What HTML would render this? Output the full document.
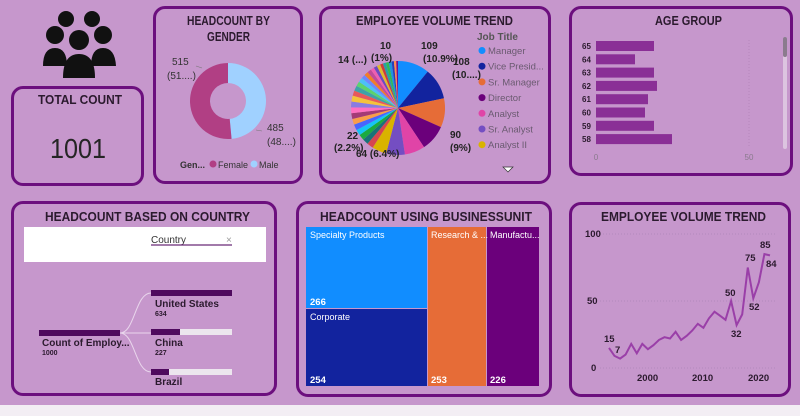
<!DOCTYPE html>
<html><head><meta charset="utf-8"><style>
body{margin:0;width:800px;height:416px;overflow:hidden;background:#c697cc;font-family:"Liberation Sans",sans-serif}
.p{position:absolute;border:3px solid #6c0f7e;border-radius:12px;box-sizing:border-box}
svg{position:absolute;left:0;top:0}
</style></head><body>
<div style="position:absolute;left:0;top:405px;width:800px;height:11px;background:#f3eef4"></div>
<div class="p" style="left:11px;top:86px;width:133px;height:100px"></div>
<div class="p" style="left:153px;top:6px;width:150px;height:178px"></div>
<div class="p" style="left:319px;top:6px;width:232px;height:178px"></div>
<div class="p" style="left:569px;top:6px;width:224px;height:170px"></div>
<div class="p" style="left:11px;top:201px;width:266px;height:195px"></div>
<div class="p" style="left:296px;top:201px;width:256px;height:196px"></div>
<div class="p" style="left:569px;top:202px;width:222px;height:195px"></div>
<svg id="s" width="800" height="416" font-family="Liberation Sans, sans-serif">
<g fill="#111">
<circle cx="66" cy="19" r="8"/><circle cx="92" cy="19" r="8"/>
<circle cx="55" cy="35" r="9"/><circle cx="103" cy="35" r="9"/>
<circle cx="79" cy="40" r="10"/>
<path d="M43 66 q0-18 12-18 q12 0 12 18z"/><path d="M91 66 q0-18 12-18 q12 0 13 18z"/>
<path d="M63 78 q0-24 16-24 q16 0 16 24z"/>
</g>
<g font-weight="bold" fill="#2b1a2e" font-size="13" lengthAdjust="spacingAndGlyphs">
<text x="38" y="104" textLength="84" lengthAdjust="spacingAndGlyphs">TOTAL COUNT</text>
<text x="187" y="25" textLength="83" lengthAdjust="spacingAndGlyphs">HEADCOUNT BY</text><text x="207" y="41" textLength="43" lengthAdjust="spacingAndGlyphs">GENDER</text>
<text x="356" y="25" textLength="157" lengthAdjust="spacingAndGlyphs">EMPLOYEE VOLUME TREND</text>
<text x="655" y="25" textLength="67" lengthAdjust="spacingAndGlyphs">AGE GROUP</text>
<text x="45" y="221" textLength="205" lengthAdjust="spacingAndGlyphs">HEADCOUNT BASED ON COUNTRY</text>
<text x="320" y="221" textLength="212" lengthAdjust="spacingAndGlyphs">HEADCOUNT USING BUSINESSUNIT</text>
<text x="601" y="221" textLength="165" lengthAdjust="spacingAndGlyphs">EMPLOYEE VOLUME TREND</text>
</g>
<text x="50" y="158" textLength="56" lengthAdjust="spacingAndGlyphs" font-size="28" fill="#252525">1001</text>
<g id="donut"></g>
<g font-size="10" fill="#333"><text x="172" y="65">515</text><text x="167" y="79">(51....)</text>
<text x="267" y="131">485</text><text x="267" y="145">(48....)</text>
<text x="180" y="168" font-weight="bold" font-size="9">Gen...</text>
<circle cx="213" cy="164" r="3.5" fill="#b13f84"/><text x="218" y="168" font-size="9">Female</text>
<circle cx="254" cy="164" r="3.5" fill="#a0d1ff"/><text x="259" y="168" font-size="9">Male</text></g>
<path d="M196 66 l6 2 M256 130 l6 1" stroke="#777" fill="none" stroke-width=".6"/>
<g id="pie"></g>
<g font-size="10" font-weight="bold" fill="#222">
<text x="421" y="49">109</text><text x="423" y="62">(10.9%)</text>
<text x="453" y="65">108</text><text x="452" y="78">(10....)</text>
<text x="450" y="138">90</text><text x="450" y="151">(9%)</text>
<text x="380" y="49">10</text><text x="371" y="61">(1%)</text>
<text x="338" y="63">14 (...)</text>
<text x="347" y="139">22</text><text x="334" y="151">(2.2%)</text>
<text x="356" y="157">64 (6.4%)</text>
<text x="477" y="40" fill="#555">Job Title</text>
</g>
<g id="leg" font-size="9.5" fill="#6a5a70"></g>
<path d="M503 167 h10 l-5 5z" fill="#fff" stroke="#333" stroke-width=".7"/>
<g id="age"></g>
<line x1="749" y1="40" x2="749" y2="148" stroke="#b587bd" stroke-dasharray="1,2"/>
<rect x="783" y="37" width="4" height="112" rx="2" fill="#dcc4e0"/><rect x="783" y="37" width="4" height="20" rx="2" fill="#8b7b8e"/>
<text x="596" y="160" font-size="8" fill="#8a7a8d" text-anchor="middle">0</text>
<text x="749" y="160" font-size="8" fill="#8a7a8d" text-anchor="middle">50</text>
<rect x="24" y="227" width="242" height="35" fill="#fff"/>
<text x="151" y="243" font-size="10" fill="#333">Country</text><text x="226" y="243" font-size="10" fill="#999">×</text>
<line x1="151" y1="245" x2="232" y2="245" stroke="#6b2a78" stroke-width="1.2"/>
<path d="M120 333 C135 333,135 293,151 293 M120 333 H151 M120 333 C135 333,135 372,151 372" stroke="#e9d6ec" fill="none"/>
<rect x="39" y="330" width="81" height="6" fill="#4f0a5e"/>
<rect x="151" y="290" width="81" height="6" fill="#4f0a5e"/>
<rect x="151" y="329" width="81" height="6" fill="#ece6ee"/><rect x="151" y="329" width="29" height="6" fill="#4f0a5e"/>
<rect x="151" y="369" width="81" height="6" fill="#ece6ee"/><rect x="151" y="369" width="18" height="6" fill="#4f0a5e"/>
<g fill="#2b1a2e" font-weight="bold"><text x="42" y="346" font-size="10">Count of Employ...</text><text x="42" y="355" font-size="7">1000</text>
<text x="155" y="307" font-size="10">United States</text><text x="155" y="316" font-size="7">634</text>
<text x="155" y="346" font-size="10">China</text><text x="155" y="355" font-size="7">227</text>
<text x="155" y="385" font-size="10">Brazil</text></g>
<rect x="306" y="227" width="121" height="81" fill="#118dff"/>
<rect x="306" y="309" width="121" height="77" fill="#12239e"/>
<rect x="428" y="227" width="58" height="159" fill="#e66c37"/>
<rect x="487" y="227" width="52" height="159" fill="#6b007b"/>
<g fill="#fff" font-size="9"><text x="310" y="238">Specialty Products</text><text x="310" y="320">Corporate</text>
<text x="431" y="238">Research &amp; ...</text><text x="490" y="238">Manufactu...</text>
<g font-weight="bold" font-size="9.5"><text x="310" y="305">266</text><text x="310" y="383">254</text><text x="431" y="383">253</text><text x="490" y="383">226</text></g></g>
<g stroke="#b38abb" stroke-dasharray="1,2"><line x1="600" y1="234" x2="776" y2="234"/><line x1="600" y1="301" x2="776" y2="301"/><line x1="600" y1="368" x2="776" y2="368"/></g>
<g font-size="9.5" font-weight="bold" fill="#2b1a2e"><text x="585" y="237">100</text><text x="587" y="304">50</text><text x="591" y="371">0</text>
<text x="637" y="381">2000</text><text x="692" y="381">2010</text><text x="748" y="381">2020</text></g>
<polyline id="ln" fill="none" stroke="#9a3fa8" stroke-width="2"/>
<g font-size="9.5" font-weight="bold" fill="#2b1a2e"><text x="604" y="342">15</text><text x="615" y="353">7</text>
<text x="725" y="296">50</text><text x="731" y="337">32</text><text x="745" y="261">75</text><text x="749" y="310">52</text>
<text x="760" y="248">85</text><text x="766" y="267">84</text></g>
</svg>
<script>
const NS="http://www.w3.org/2000/svg";
function el(p,t,a){const e=document.createElementNS(NS,t);for(const k in a)e.setAttribute(k,a[k]);document.getElementById(p).appendChild(e);return e}
function arc(cx,cy,r,ri,a0,a1){const f=(a,R)=>[cx+R*Math.sin(a),cy-R*Math.cos(a)];const l=(a1-a0)>Math.PI?1:0;
const [x0,y0]=f(a0,r),[x1,y1]=f(a1,r);if(!ri)return `M${cx} ${cy}L${x0} ${y0}A${r} ${r} 0 ${l} 1 ${x1} ${y1}Z`;
const [x2,y2]=f(a1,ri),[x3,y3]=f(a0,ri);return `M${x0} ${y0}A${r} ${r} 0 ${l} 1 ${x1} ${y1}L${x2} ${y2}A${ri} ${ri} 0 ${l} 0 ${x3} ${y3}Z`}
const T=2*Math.PI;
el("donut","path",{d:arc(228,101,38,18,0,0.485*T),fill:"#a0d1ff"});
el("donut","path",{d:arc(228,101,38,18,0.485*T,T-0.0001),fill:"#b13f84"});
const cols=["#118dff","#12239e","#e66c37","#6b007b","#e044a7","#744ec2","#d9b300","#d64550","#197278","#1aab40","#15c6f4","#4766ff","#f99d4a","#a43b76","#ff70c1","#8a7ce0","#f5c33b","#e8595b","#3fa2a8","#5bd36e","#4cc0f7","#6f86ff","#f07d2a","#c2499a","#ee5fb0","#6a4bc0","#e0b92c","#cc3b3b","#27a0a5","#2dbb56","#1d93e0","#2a3fb8","#ff8a50","#7a0e8a"];
const v=[10.9,10.8,10,9,7,6.4,5,2.2,2,2,2,2,2,2,2,2,2,1.8,1.8,1.6,1.6,1.4,1.4,1.4,1.2,1.2,1.2,1,1,1,1,0.8,0.8,0.6];
const s=v.reduce((a,b)=>a+b,0);let a=0;
v.forEach((x,i)=>{const b=a+x/s*T;el("pie","path",{d:arc(398,108,47,0,a,b),fill:cols[i]});a=b});
["Manager","Vice Presid...","Sr. Manager","Director","Analyst","Sr. Analyst","Analyst II"].forEach((t,i)=>{const y=54+i*15.7;
el("leg","circle",{cx:482,cy:y-3.5,r:3.5,fill:cols[i]});el("leg","text",{x:488,y:y}).textContent=t});
const ages=[[65,654],[64,635],[63,654],[62,657],[61,648],[60,645],[59,654],[58,672]];
ages.forEach((g,i)=>{const y=41+i*13.3;el("age","rect",{x:596,y:y,width:g[1]-596,height:10,fill:"#8a2f96"});
const t=el("age","text",{x:582,y:y+8,"font-size":"8","font-weight":"bold",fill:"#2b1a2e"});t.textContent=g[0]});
const d=[15,9,7,10,18,11,18,14,17,21,23,22,27,21,24,28,33,30,37,42,39,36,50,32,40,75,52,64,85,84];
document.getElementById("ln").setAttribute("points",d.map((y,i)=>(609+(i)*5.55).toFixed(1)+","+(368-y*1.34).toFixed(1)).join(" "));
</script>
</body></html>
